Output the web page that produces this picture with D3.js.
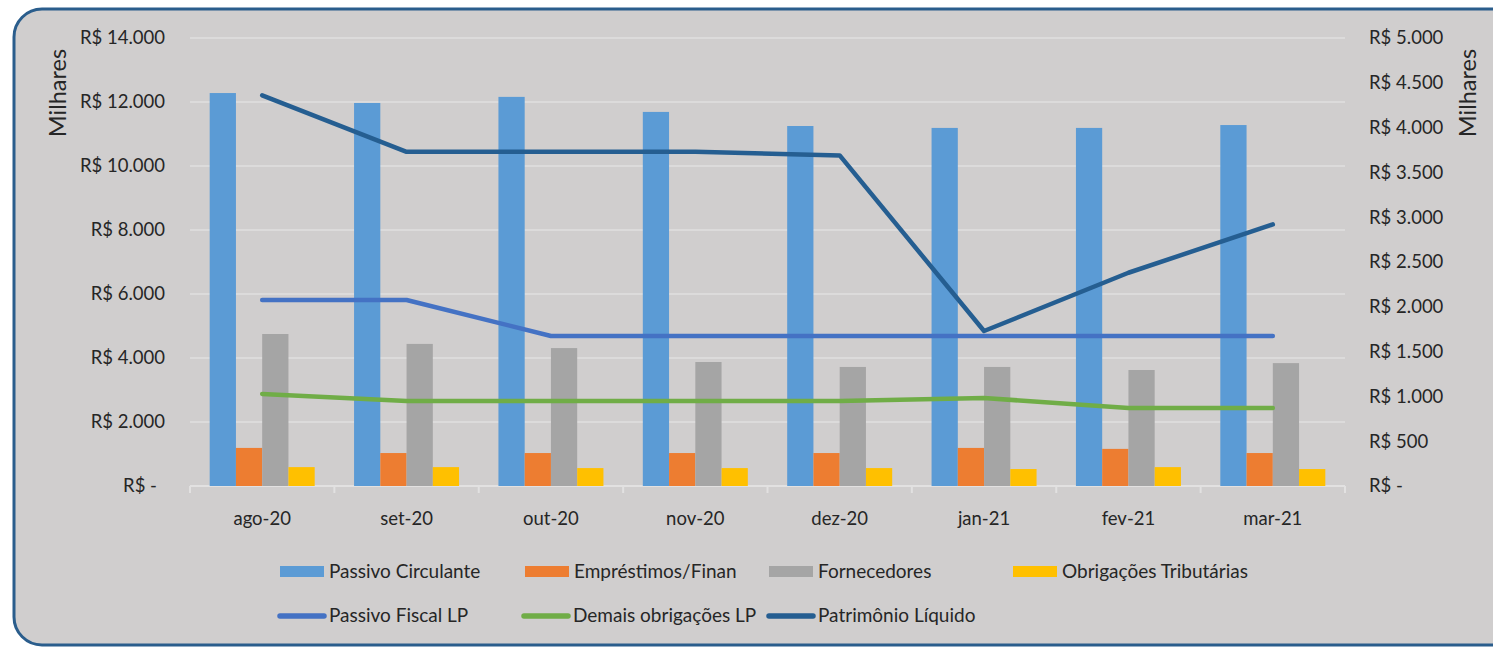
<!DOCTYPE html>
<html>
<head>
<meta charset="utf-8">
<script src="https://cdn.jsdelivr.net/npm/d3@7"></script>
<style>
  html, body { margin:0; padding:0; background:#fff; }
  svg { display:block; }
  svg text { font-family: Lato, "Open Sans", sans-serif; }
</style>
</head>
<body>
<svg id="chart" width="1493" height="647"></svg>
<script>
// Dados (R$ milhares)
const meses = ['ago-20','set-20','out-20','nov-20','dez-20','jan-21','fev-21','mar-21'];

const passivoCirculante = [12280, 11970, 12160, 11690, 11250, 11190, 11190, 11280];
const emprestimos       = [1190, 1030, 1030, 1030, 1030, 1190, 1160, 1030];
const fornecedores      = [4750, 4440, 4310, 3875, 3720, 3720, 3625, 3840];
const obrigacoesTrib    = [590, 590, 560, 560, 560, 530, 590, 530];

// eixo secundário
const passivoFiscalLP   = [2076, 2076, 1674, 1674, 1674, 1674, 1674, 1674];
const demaisObrigLP     = [1027, 950, 950, 950, 950, 982, 870, 870];
const patrimonioLiq     = [4360, 3730, 3730, 3730, 3690, 1730, 2380, 2920];

const ticksEsq = [0, 2000, 4000, 6000, 8000, 10000, 12000, 14000];
const ticksDir = [0, 500, 1000, 1500, 2000, 2500, 3000, 3500, 4000, 4500, 5000];

const barras = [
  {nome:'Passivo Circulante', valores:passivoCirculante, cor:'#5b9bd5'},
  {nome:'Empréstimos/Finan', valores:emprestimos, cor:'#ed7d31'},
  {nome:'Fornecedores', valores:fornecedores, cor:'#a5a5a5'},
  {nome:'Obrigações Tributárias', valores:obrigacoesTrib, cor:'#ffc000'}
];
const linhas = [
  {nome:'Passivo Fiscal LP', valores:passivoFiscalLP, cor:'#4472c4'},
  {nome:'Demais obrigações LP', valores:demaisObrigLP, cor:'#70ad47'},
  {nome:'Patrimônio Líquido', valores:patrimonioLiq, cor:'#255e91'}
];

const svg = d3.select('#chart');
const plot = {left:190, right:1345, top:38, bottom:486};
const txtCor = '#262626';
const fs = '18.5px';
const fsLeg = '19px';

// moldura arredondada
svg.append('rect')
  .attr('x', 14).attr('y', 9)
  .attr('width', 1520).attr('height', 636)
  .attr('rx', 28).attr('ry', 28)
  .attr('fill', '#d0cece')
  .attr('stroke', '#2a5d8c')
  .attr('stroke-width', 3);

// Escalas
const x = d3.scaleBand().domain(meses).range([plot.left, plot.right]);
const xs = d3.scaleBand().domain(barras.map(b=>b.nome))
  .range([0, x.bandwidth()]).paddingOuter(0.75).paddingInner(0);
const yL = d3.scaleLinear().domain([0, 14000]).range([plot.bottom, plot.top]);
const yR = d3.scaleLinear().domain([0, 5000]).range([plot.bottom, plot.top]);

const fmt = v => v === 0 ? 'R$ -' : 'R$ ' + d3.format(',')(v).replace(/,/g, '.');

// Grade
svg.append('g')
  .selectAll('line')
  .data(ticksEsq.slice(1))
  .join('line')
  .attr('x1', plot.left).attr('x2', plot.right)
  .attr('y1', d=>yL(d)).attr('y2', d=>yL(d))
  .attr('stroke', '#e0dfdf').attr('stroke-width', 1.5);

// Eixo X
const gx = svg.append('g').attr('transform', `translate(0,${plot.bottom})`);
gx.append('line')
  .attr('x1', plot.left).attr('x2', plot.right)
  .attr('stroke', '#e2e1e1').attr('stroke-width', 2);
gx.selectAll('line.tk')
  .data(d3.range(meses.length + 1))
  .join('line').attr('class','tk')
  .attr('x1', i=>plot.left + i*x.step()).attr('x2', i=>plot.left + i*x.step())
  .attr('y1', 0).attr('y2', 7)
  .attr('stroke', '#e2e1e1').attr('stroke-width', 2);
gx.selectAll('text')
  .data(meses)
  .join('text')
  .attr('x', d=>x(d) + x.bandwidth()/2)
  .attr('y', 39)
  .attr('text-anchor', 'middle')
  .attr('fill', txtCor)
  .style('font-size', fs)
  .text(d=>d);

// Eixo esquerdo
const yAxisL = d3.axisLeft(yL).tickValues(ticksEsq).tickFormat(fmt).tickSize(0).tickPadding(25);
const gyl = svg.append('g').attr('transform', `translate(${plot.left},0)`).call(yAxisL)
  .attr('font-family', null).attr('font-size', null);
gyl.select('.domain').remove();
gyl.selectAll('text')
  .attr('fill', txtCor).style('font-size', fs)
  .attr('x', d=> d === 0 ? -33 : -25);

// Eixo direito
const yAxisR = d3.axisRight(yR).tickValues(ticksDir).tickFormat(fmt).tickSize(0).tickPadding(24);
const gyr = svg.append('g').attr('transform', `translate(${plot.right},0)`).call(yAxisR)
  .attr('font-family', null).attr('font-size', null);
gyr.select('.domain').remove();
gyr.selectAll('text').attr('fill', txtCor).style('font-size', fs);

// Títulos "Milhares"
svg.append('text')
  .attr('transform', 'translate(66,93) rotate(-90)')
  .attr('text-anchor', 'middle').attr('fill', txtCor)
  .style('font-size', '23.5px').text('Milhares');
svg.append('text')
  .attr('transform', 'translate(1476,93) rotate(-90)')
  .attr('text-anchor', 'middle').attr('fill', txtCor)
  .style('font-size', '23.5px').text('Milhares');

// Barras
barras.forEach(b => {
  svg.append('g')
    .selectAll('rect')
    .data(meses)
    .join('rect')
    .attr('x', (m)=>x(m) + xs(b.nome))
    .attr('width', xs.bandwidth())
    .attr('y', (m,i)=>yL(b.valores[i]))
    .attr('height', (m,i)=>yL(0) - yL(b.valores[i]))
    .attr('fill', b.cor);
});

// Linhas (eixo secundário)
linhas.forEach(l => {
  const gen = d3.line()
    .x((v,i)=>x(meses[i]) + x.bandwidth()/2)
    .y(v=>yR(v));
  svg.append('path')
    .datum(l.valores)
    .attr('d', gen)
    .attr('fill', 'none')
    .attr('stroke', l.cor)
    .attr('stroke-width', 4.5)
    .attr('stroke-linecap', 'round')
    .attr('stroke-linejoin', 'round');
});

// Legenda
const legBarras = [
  {item:barras[0], x:280}, {item:barras[1], x:525},
  {item:barras[2], x:769}, {item:barras[3], x:1013}
];
legBarras.forEach(d => {
  svg.append('rect')
    .attr('x', d.x).attr('y', 566).attr('width', 44).attr('height', 11)
    .attr('fill', d.item.cor);
  svg.append('text')
    .attr('x', d.x + 49).attr('y', 578)
    .attr('fill', txtCor).style('font-size', fsLeg)
    .text(d.item.nome);
});
const legLinhas = [
  {item:linhas[0], x:280}, {item:linhas[1], x:524}, {item:linhas[2], x:769}
];
legLinhas.forEach(d => {
  svg.append('line')
    .attr('x1', d.x).attr('x2', d.x + 44)
    .attr('y1', 616).attr('y2', 616)
    .attr('stroke', d.item.cor).attr('stroke-width', 5.5)
    .attr('stroke-linecap', 'round');
  svg.append('text')
    .attr('x', d.x + 49).attr('y', 622)
    .attr('fill', txtCor).style('font-size', fsLeg)
    .text(d.item.nome);
});
</script>
</body>
</html>
